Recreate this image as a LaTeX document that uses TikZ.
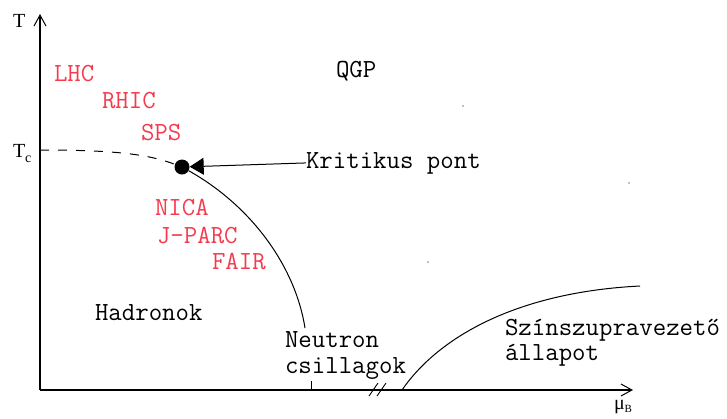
\documentclass[tikz,border=0pt]{standalone}
\usepackage{fontspec}
\setmainfont{Liberation Serif}
\newfontfamily\monofnt{Latin Modern Mono}
\usetikzlibrary{arrows.meta}
\definecolor{labred}{RGB}{245,58,78}
\tikzset{
  lbl/.style={anchor=base west,inner sep=0pt,outer sep=0pt,font=\monofnt\fontsize{26.1}{30}\selectfont},
  redlbl/.style={lbl,text=labred},
  axlbl/.style={anchor=base west,inner sep=0pt,outer sep=0pt,font=\fontsize{20}{24}\selectfont},
  axis/.style={line width=1.2pt,-{Straight Barb[length=11pt,width=12pt,line width=1pt]}},
  curve/.style={line width=1pt},
  dashcurve/.style={line width=1pt,dash pattern=on 9pt off 9pt},
}
\begin{document}
\begin{tikzpicture}[x=1pt,y=-1pt]
\useasboundingbox (0,0) rectangle (727,418);
% axes
\coordinate (o) at (40,390);
\coordinate (ytop) at (40,14);
\coordinate (xend) at (633,390);
\draw[axis] (o) -- (ytop);
\draw[axis] (o) -- (xend);
% tick and break marks
\coordinate (tk1) at (311,381);
\coordinate (tk2) at (311,390);
\draw[line width=1pt] (tk1) -- (tk2);
\coordinate (b1a) at (369,396); \coordinate (b1b) at (378,383);
\coordinate (b2a) at (377,396); \coordinate (b2b) at (386,383);
\draw[line width=0.9pt] (b1a) -- (b1b);
\draw[line width=0.9pt] (b2a) -- (b2b);
% axis labels
\node[axlbl] (tl) at (13,27) {T};
\node[axlbl] (tcl) at (13,157) {T\raisebox{-5pt}{\fontsize{14}{14}\selectfont c}};
\node[axlbl] (mul) at (614,409) {μ\raisebox{-3pt}{\fontsize{11}{11}\selectfont B}};
% critical point
\node[circle,fill=black,inner sep=0pt,minimum size=15pt] (cp) at (182,167) {};
\coordinate (tc) at (40,150);
\draw[dashcurve] (tc) .. controls (120,150) and (150,155) .. (cp);
\coordinate (ns) at (305,328);
\draw[curve] (cp) .. controls (250,205) and (295,265) .. (ns);
\coordinate (scs) at (402,390);
\coordinate (sce) at (640,286);
\draw[curve] (scs) .. controls (440,335) and (520,292) .. (sce);
% labels
\node[lbl] (kp) at (306,168) {Kritikus pont};
\draw[line width=1pt,-{Triangle[length=14pt,width=17pt]}] (kp.west) -- (cp);
\node[lbl] (qgp) at (336,77) {QGP};
\node[redlbl] (lhc) at (54,81) {LHC};
\node[redlbl] (rhic) at (102,108) {RHIC};
\node[redlbl] (sps) at (141,140) {SPS};
\node[redlbl] (nica) at (155,215) {NICA};
\node[redlbl] (jparc) at (157,243) {J-PARC};
\node[redlbl] (fair) at (212,269) {FAIR};
\node[lbl] (had) at (95,320) {Hadronok};
\node[lbl] (neu) at (285,347) {Neutron};
\node[lbl] (csi) at (285,373) {csillagok};
\node[lbl] (szin) at (505,335) {Színszupravezető};
\node[lbl] (all) at (505,360) {állapot};
% stray specks
\fill[gray] (463,106) circle (0.9pt);
\fill[gray] (629,183) circle (0.9pt);
\fill[gray] (428,262) circle (0.9pt);
\end{tikzpicture}
\end{document}
